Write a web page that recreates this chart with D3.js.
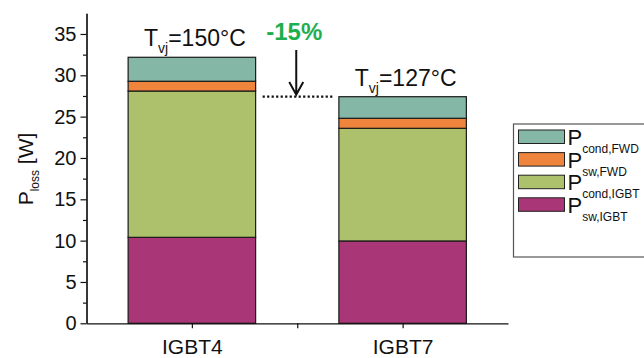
<!DOCTYPE html>
<html>
<head>
<meta charset="utf-8">
<script src="https://cdn.jsdelivr.net/npm/d3@7"></script>
<style>
    body { margin: 0; background: #fff; }
    svg { display: block; font-family: "Liberation Sans", Arial, sans-serif; }
</style>
</head>
<body>
<svg id="chart" width="644" height="358"></svg>
<script>
"use strict";

// data
var categories = ['IGBT4', 'IGBT7'];
var temps = ['150', '127'];
var swIGBT = [10.4, 9.96];
var condIGBT = [17.7, 13.63];
var swFWD = [1.18, 1.21];
var condFWD = [2.9, 2.61];
var yTicks = [0, 5, 10, 15, 20, 25, 30, 35];
var reduction = '-15%';

var series = [
    { key: 'swIGBT', main: 'P', sub: 'sw,IGBT', color: '#a93677', values: swIGBT },
    { key: 'condIGBT', main: 'P', sub: 'cond,IGBT', color: '#adc06b', values: condIGBT },
    { key: 'swFWD', main: 'P', sub: 'sw,FWD', color: '#ef843d', values: swFWD },
    { key: 'condFWD', main: 'P', sub: 'cond,FWD', color: '#84b7a6', values: condFWD }
];

var svg = d3.select('#chart');

var x = d3.scaleLinear().domain([0, 4]).range([86.5, 508]);
var y = d3.scaleLinear().domain([0, 37.5]).range([323.3, 13.3]);
var barW = x(1.21) - x(0);

// stacked rows
var rows = categories.map(function(c, i) {
    var o = { name: c, pos: 2 * i + 1 };
    series.forEach(function(s) { o[s.key] = s.values[i]; });
    return o;
});
var stacked = d3.stack().keys(series.map(function(s) { return s.key; }))(rows);

svg.append('g').selectAll('g').data(stacked).enter().append('g')
    .attr('fill', function(d, i) { return series[i].color; })
    .selectAll('rect').data(function(d) { return d; }).enter().append('rect')
    .attr('x', function(d) { return x(d.data.pos) - barW / 2; })
    .attr('width', barW)
    .attr('y', function(d) { return y(d[1]); })
    .attr('height', function(d) { return y(d[0]) - y(d[1]); })
    .attr('stroke', '#1a1a1a')
    .attr('stroke-width', 1.2);

// y axis
var yAxis = svg.append('g').attr('transform', 'translate(' + x(0) + ',0)')
    .call(d3.axisLeft(y).tickValues(yTicks).tickSize(6).tickSizeOuter(0).tickPadding(4));
yAxis.selectAll('text').attr('font-size', 20).attr('font-family', null).attr('fill', '#111');
svg.append('g').attr('transform', 'translate(' + x(0) + ',0)')
    .call(d3.axisLeft(y).tickValues(yTicks.slice(0, -1).map(function(v) { return v + 2.5; }))
        .tickSize(3.5).tickFormat('').tickSizeOuter(0));

// x axis
var xAxis = svg.append('g').attr('transform', 'translate(0,' + y(0) + ')')
    .call(d3.axisBottom(x).tickValues([1, 2, 3]).tickSize(5).tickSizeOuter(0)
        .tickFormat(function(d) { return d === 2 ? '' : categories[(d - 1) / 2]; }).tickPadding(11));
xAxis.selectAll('text').attr('font-size', 21).attr('font-family', null).attr('fill', '#111');
svg.selectAll('.domain, .tick line').attr('stroke', '#111').attr('stroke-width', 1.2);

// y label
var yl = svg.append('text').attr('transform', 'translate(33,169) rotate(-90)')
    .attr('text-anchor', 'middle').attr('font-size', 21).attr('fill', '#111');
yl.append('tspan').text('P');
yl.append('tspan').attr('font-size', 12).attr('dy', 6).text('loss');
yl.append('tspan').attr('dy', -6).text(' [W]');

// temperature labels above bars
rows.forEach(function(r, i) {
    var total = d3.sum(series, function(s) { return s.values[i]; });
    var t = svg.append('text').attr('x', x(r.pos) + 3).attr('y', y(total) - 11)
        .attr('text-anchor', 'middle').attr('font-size', 23).attr('fill', '#111');
    t.append('tspan').text('T');
    t.append('tspan').attr('font-size', 14).attr('dy', 7).text('vj');
    t.append('tspan').attr('dy', -7).text('=' + temps[i] + '\u00b0C');
});

// reduction marker
var total7 = d3.sum(series, function(s) { return s.values[1]; });
svg.append('line')
    .attr('x1', x(1) + barW / 2 + 7).attr('x2', x(3) - barW / 2 - 6)
    .attr('y1', y(total7)).attr('y2', y(total7))
    .attr('stroke', '#111').attr('stroke-width', 2.2).attr('stroke-dasharray', '2.2,2.3');
var ax = x(2) - 1;
svg.append('path')
    .attr('d', 'M' + ax + ',50V' + (y(total7) - 2) + 'M' + (ax - 7) + ',82L' + ax + ',' + (y(total7) - 2) + 'L' + (ax + 7) + ',82')
    .attr('fill', 'none').attr('stroke', '#111').attr('stroke-width', 2);
svg.append('text').attr('x', ax - 2).attr('y', 39.5).attr('text-anchor', 'middle')
    .attr('font-size', 24).attr('font-weight', 'bold').attr('fill', '#1fae4e').text(reduction);

// legend
var lg = svg.append('g').attr('transform', 'translate(513.5,124)');
lg.append('rect').attr('width', 140).attr('height', 133)
    .attr('fill', '#fff').attr('stroke', '#555').attr('stroke-width', 1.2);
var items = lg.selectAll('g.item').data(series.slice().reverse()).enter().append('g')
    .attr('class', 'item')
    .attr('transform', function(d, i) { return 'translate(5,' + (6 + i * 22.6) + ')'; });
items.append('rect').attr('width', 46).attr('height', 13.5)
    .attr('fill', function(d) { return d.color; }).attr('stroke', '#222').attr('stroke-width', 1);
var lt = items.append('text').attr('x', 49).attr('y', 15).attr('font-size', 22).attr('fill', '#111');
lt.append('tspan').text(function(d) { return d.main; });
lt.append('tspan').attr('font-size', 12).attr('dy', 8).text(function(d) { return d.sub; });
</script>
</body>
</html>
